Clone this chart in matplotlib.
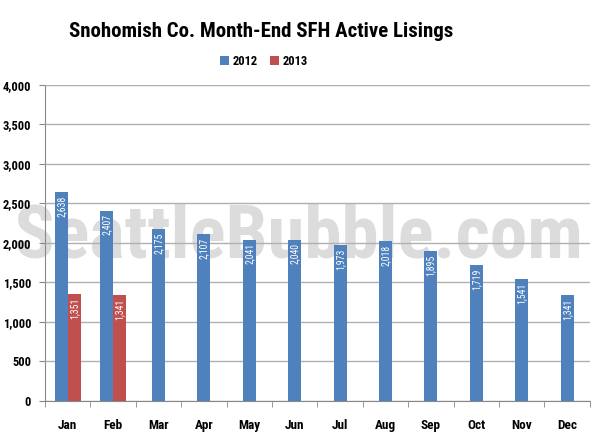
import numpy as np
import matplotlib
matplotlib.use("Agg")
import matplotlib.pyplot as plt

months = ["Jan", "Feb", "Mar", "Apr", "May", "Jun", "Jul", "Aug", "Sep", "Oct", "Nov", "Dec"]
y2012 = [2638, 2407, 2175, 2107, 2041, 2040, 1973, 2018, 1895, 1719, 1541, 1341]
y2013 = [1351, 1341]
yticks = [0, 500, 1000, 1500, 2000, 2500, 3000, 3500, 4000]

blue = "#4F81BD"
red = "#C0504D"
narrow = ["Roboto Condensed", "Roboto", "DejaVu Sans"]

fig = plt.figure(figsize=(6, 4.36), dpi=100)
ax = fig.add_axes([0.075, 0.0803, 0.908, 0.7255])

x = np.arange(len(months))
w = 0.285
b1 = ax.bar(x[:2] - w / 2, y2012[:2], w, color=blue, zorder=3, label="2012")
b1b = ax.bar(x[2:], y2012[2:], w, color=blue, zorder=3)
b2 = ax.bar(x[:2] + w / 2, y2013, w, color=red, zorder=3, label="2013")

for bars in (b1, b1b, b2):
    for r in bars:
        h = r.get_height()
        ax.text(r.get_x() + r.get_width() / 2, h - 45, f"{int(h):,}", rotation=90,
                ha="center", va="top", color="white", fontsize=7, zorder=4,
                family=narrow)

ax.set_xlim(-0.5, 11.5)
ax.set_ylim(0, 4000)
ax.set_yticks(yticks)
ax.set_yticklabels([f"{v:,}" for v in yticks], family=narrow, fontweight="bold", fontsize=9)
ax.set_xticks(x)
ax.set_xticklabels(months, family=narrow, fontweight="bold", fontsize=9.5)
ax.set_xticks(np.arange(-0.5, 12, 1), minor=True)
ax.tick_params(axis="x", which="major", length=0, pad=13)
ax.tick_params(axis="x", which="minor", length=4, color="#888888", direction="out")
ax.tick_params(axis="y", length=4, color="#888888", pad=6)
ax.grid(axis="y", color="#B0B0B0", linewidth=1, zorder=1)
ax.set_axisbelow(False)
for s in ("top", "right"):
    ax.spines[s].set_visible(False)
ax.spines["left"].set_color("#888888")
ax.spines["bottom"].set_color("#888888")

# watermark (behind the grid and bars)
ax.text(0.497, 0.41, "SeattleBubble.com", ha="center", va="baseline", fontsize=54,
        fontweight="bold", color="#dcdcdc", family=narrow, zorder=0.5,
        transform=fig.transFigure)
ax.set_facecolor("none")

fig.text(0.435, 0.915, "Snohomish Co. Month-End SFH Active Lisings", ha="center", va="baseline",
         fontsize=15, family=narrow, fontweight="bold")
leg = fig.legend(handles=[b1, b2], labels=["2012", "2013"], loc="center", bbox_to_anchor=(0.44, 0.86),
                 ncol=2, frameon=False, handlelength=0.7, handleheight=0.7, handletextpad=0.3,
                 columnspacing=1.0, prop={"family": narrow, "weight": "bold", "size": 9})

fig.savefig("out.png", dpi=100)
